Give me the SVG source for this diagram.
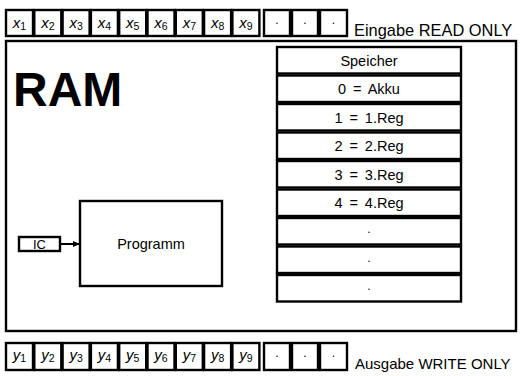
<svg xmlns="http://www.w3.org/2000/svg" width="522" height="376" viewBox="0 0 522 376">
  <style>
    .box { fill: #fff; stroke: #000; stroke-width: 2.4; }
    .cell { fill: #fff; stroke: #000; stroke-width: 2.4; }
    .t { font-family: "Liberation Sans", Arial, sans-serif; fill: #000; }
    .var { font-family: "Liberation Sans", Arial, sans-serif; font-style: italic; font-size: 15px; }
    .sub { font-style: normal; font-size: 10.5px; }
    .lbl { font-size: 14.5px; text-anchor: middle; }
    .cap { font-size: 16.4px; }
    .dot { font-size: 12px; text-anchor: middle; }
  </style>
  <defs>
    <marker id="arrow" markerWidth="8" markerHeight="8" refX="7" refY="4" orient="auto" markerUnits="userSpaceOnUse">
      <path d="M0,1 L7,4 L0,7 Z" fill="#000"/>
    </marker>
  </defs>

  <!-- input tape -->
  <g id="input-tape">
    <rect class="cell" x="6" y="10" width="27" height="26"/>
    <rect class="cell" x="34.3" y="10" width="27" height="26"/>
    <rect class="cell" x="62.6" y="10" width="27" height="26"/>
    <rect class="cell" x="90.9" y="10" width="27" height="26"/>
    <rect class="cell" x="119.2" y="10" width="27" height="26"/>
    <rect class="cell" x="147.5" y="10" width="27" height="26"/>
    <rect class="cell" x="175.8" y="10" width="27" height="26"/>
    <rect class="cell" x="204.1" y="10" width="27" height="26"/>
    <rect class="cell" x="232.4" y="10" width="27" height="26"/>
    <rect class="cell" x="264" y="10" width="26" height="26"/>
    <rect class="cell" x="292" y="10" width="26" height="26"/>
    <rect class="cell" x="320" y="10" width="27" height="26"/>
    <g class="var" text-anchor="middle">
      <text x="19.5" y="28">x<tspan class="sub" dy="2">1</tspan></text>
      <text x="47.8" y="28">x<tspan class="sub" dy="2">2</tspan></text>
      <text x="76.1" y="28">x<tspan class="sub" dy="2">3</tspan></text>
      <text x="104.4" y="28">x<tspan class="sub" dy="2">4</tspan></text>
      <text x="132.7" y="28">x<tspan class="sub" dy="2">5</tspan></text>
      <text x="161" y="28">x<tspan class="sub" dy="2">6</tspan></text>
      <text x="189.3" y="28">x<tspan class="sub" dy="2">7</tspan></text>
      <text x="217.6" y="28">x<tspan class="sub" dy="2">8</tspan></text>
      <text x="245.9" y="28">x<tspan class="sub" dy="2">9</tspan></text>
    </g>
    <text class="t dot" x="277" y="24">.</text>
    <text class="t dot" x="305" y="24">.</text>
    <text class="t dot" x="333.5" y="24">.</text>
    <text class="t cap" x="354" y="36">Eingabe READ ONLY</text>
  </g>

  <!-- machine frame -->
  <g id="ram">
    <rect class="box" x="6" y="41" width="510" height="290"/>
    <text class="t" x="13" y="106" font-size="48" font-weight="bold">RAM</text>
  </g>

  <!-- memory registers -->
  <g id="speicher">
    <rect class="box" x="277" y="47" width="184" height="26.5"/>
    <rect class="box" x="277" y="75.5" width="184" height="26.5"/>
    <rect class="box" x="277" y="104" width="184" height="26.5"/>
    <rect class="box" x="277" y="132.5" width="184" height="26.5"/>
    <rect class="box" x="277" y="161" width="184" height="26.5"/>
    <rect class="box" x="277" y="189.5" width="184" height="26.5"/>
    <rect class="box" x="277" y="218" width="184" height="26.5"/>
    <rect class="box" x="277" y="246.5" width="184" height="26.5"/>
    <rect class="box" x="277" y="275" width="184" height="26.5"/>
    <g class="t lbl">
      <text x="369" y="65.5">Speicher</text>
      <text x="369" y="94">0&#8201; =&#8201; Akku</text>
      <text x="369" y="122.5">1&#8201; =&#8201; 1.Reg</text>
      <text x="369" y="151">2&#8201; =&#8201; 2.Reg</text>
      <text x="369" y="179.5">3&#8201; =&#8201; 3.Reg</text>
      <text x="369" y="208">4&#8201; =&#8201; 4.Reg</text>
    </g>
    <text class="t dot" x="369" y="233">.</text>
    <text class="t dot" x="369" y="261.5">.</text>
    <text class="t dot" x="369" y="290">.</text>
  </g>

  <!-- program -->
  <g id="programm">
    <rect class="box" x="80" y="201" width="142" height="85"/>
    <text class="t lbl" x="151" y="249">Programm</text>
  </g>

  <!-- instruction counter -->
  <g id="ic">
    <rect class="box" x="19" y="237" width="41" height="14"/>
    <text class="t lbl" x="39.5" y="248.7" style="font-size:13px">IC</text>
  </g>

  <g id="connectors">
    <line x1="61" y1="244" x2="80" y2="244" stroke="#000" stroke-width="2" marker-end="url(#arrow)"/>
  </g>

  <!-- output tape -->
  <g id="output-tape">
    <rect class="cell" x="6" y="343" width="27" height="27"/>
    <rect class="cell" x="34.3" y="343" width="27" height="27"/>
    <rect class="cell" x="62.6" y="343" width="27" height="27"/>
    <rect class="cell" x="90.9" y="343" width="27" height="27"/>
    <rect class="cell" x="119.2" y="343" width="27" height="27"/>
    <rect class="cell" x="147.5" y="343" width="27" height="27"/>
    <rect class="cell" x="175.8" y="343" width="27" height="27"/>
    <rect class="cell" x="204.1" y="343" width="27" height="27"/>
    <rect class="cell" x="232.4" y="343" width="27" height="27"/>
    <rect class="cell" x="264" y="343" width="26" height="27"/>
    <rect class="cell" x="292" y="343" width="26" height="27"/>
    <rect class="cell" x="320" y="343" width="27" height="27"/>
    <g class="var" text-anchor="middle">
      <text x="19.5" y="360">y<tspan class="sub" dy="2">1</tspan></text>
      <text x="47.8" y="360">y<tspan class="sub" dy="2">2</tspan></text>
      <text x="76.1" y="360">y<tspan class="sub" dy="2">3</tspan></text>
      <text x="104.4" y="360">y<tspan class="sub" dy="2">4</tspan></text>
      <text x="132.7" y="360">y<tspan class="sub" dy="2">5</tspan></text>
      <text x="161" y="360">y<tspan class="sub" dy="2">6</tspan></text>
      <text x="189.3" y="360">y<tspan class="sub" dy="2">7</tspan></text>
      <text x="217.6" y="360">y<tspan class="sub" dy="2">8</tspan></text>
      <text x="245.9" y="360">y<tspan class="sub" dy="2">9</tspan></text>
    </g>
    <text class="t dot" x="277" y="357">.</text>
    <text class="t dot" x="305" y="357">.</text>
    <text class="t dot" x="333.5" y="357">.</text>
    <text class="t cap" x="355" y="369" style="font-size:15px">Ausgabe WRITE ONLY</text>
  </g>
</svg>
